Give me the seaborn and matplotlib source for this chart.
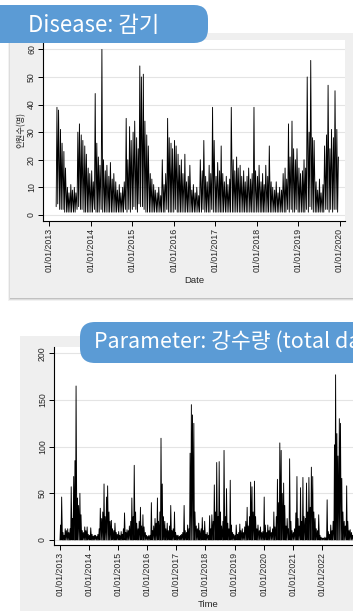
import numpy as np
import pandas as pd
import matplotlib
matplotlib.use("Agg")
import matplotlib.pyplot as plt
import matplotlib.dates as mdates
from matplotlib.patches import FancyBboxPatch, Rectangle
from matplotlib.transforms import IdentityTransform
import seaborn as sns

# --- data: daily series summarised per half-month (peak / trough) ---
# 감기 daily counts, Mar 2013 - Dec 2019
flu_hi_2013 = [39, 38, 31, 26, 23, 17, 10, 8, 11, 9, 10, 8, 30, 33, 29, 27, 25, 22, 17, 15]
flu_hi_2014 = [16, 12, 44, 26, 21, 18, 60, 20, 16, 18, 14, 19, 13, 15, 12, 9, 11, 8, 10, 12, 35, 20, 32, 27]
flu_hi_2015 = [30, 34, 28, 24, 54, 50, 51, 34, 29, 25, 15, 13, 11, 9, 8, 10, 7, 20, 11, 15, 35, 28, 26, 24]
flu_hi_2016 = [27, 25, 22, 18, 20, 15, 22, 12, 14, 18, 9, 11, 8, 10, 7, 20, 16, 27, 14, 12, 18, 15, 39, 27]
flu_hi_2017 = [14, 19, 16, 25, 15, 12, 14, 11, 13, 39, 20, 16, 21, 17, 18, 14, 16, 12, 14, 17, 13, 15, 39, 16]
flu_hi_2018 = [14, 18, 12, 15, 11, 18, 14, 25, 12, 10, 9, 12, 8, 10, 9, 15, 17, 13, 33, 21, 34, 24, 20, 24]
flu_hi_2019 = [17, 15, 16, 20, 17, 50, 30, 56, 28, 27, 12, 9, 13, 8, 11, 25, 29, 47, 24, 31, 28, 45, 31, 21]

flu_lo_2013 = [3, 4, 2, 2, 2, 1, 1, 1, 1, 1, 1, 1, 2, 3, 2, 2, 1, 1, 1, 1]
flu_lo_2014 = [1, 1, 2, 1, 1, 1, 2, 1, 1, 1, 1, 1, 1, 1, 1, 1, 1, 1, 1, 1, 2, 1, 2, 1]
flu_lo_2015 = [2, 3, 2, 1, 4, 3, 3, 2, 1, 1, 1, 1, 1, 1, 1, 1, 1, 1, 1, 1, 2, 1, 1, 1]
flu_lo_2016 = [1, 2, 1, 1, 1, 1, 1, 1, 1, 1, 1, 1, 1, 1, 1, 1, 1, 2, 1, 1, 1, 1, 2, 1]
flu_lo_2017 = [1, 1, 1, 1, 1, 1, 1, 1, 1, 1, 1, 1, 1, 1, 1, 1, 1, 1, 1, 1, 1, 1, 1, 1]
flu_lo_2018 = [1, 1, 1, 1, 1, 1, 1, 1, 1, 1, 1, 1, 1, 1, 1, 1, 1, 1, 2, 1, 2, 1, 1, 2]
flu_lo_2019 = [1, 1, 1, 1, 1, 2, 1, 3, 2, 1, 1, 1, 1, 1, 1, 1, 2, 2, 1, 2, 1, 2, 2, 1]

# 강수량 (total daily), half-month peaks, Jan 2013 - Mar 2023
rain_2013 = [16, 46, 8, 5, 12, 10, 12, 8, 12, 57, 23, 68, 85, 165, 45, 37, 50, 27, 10, 8, 14, 10, 14, 6]
rain_2014 = [5, 13, 6, 4, 5, 5, 4, 6, 12, 34, 23, 30, 60, 25, 46, 58, 30, 20, 21, 12, 10, 18, 8, 6]
rain_2015 = [9, 5, 9, 6, 12, 29, 8, 11, 10, 15, 20, 45, 25, 80, 30, 18, 12, 20, 35, 15, 27, 14, 8, 5]
rain_2016 = [4, 5, 5, 40, 10, 15, 23, 18, 45, 20, 30, 109, 60, 25, 20, 12, 18, 10, 15, 37, 10, 12, 30, 8]
rain_2017 = [5, 5, 4, 5, 6, 8, 37, 10, 8, 16, 12, 93, 145, 134, 125, 30, 15, 12, 18, 10, 12, 24, 10, 20]
rain_2018 = [6, 8, 5, 26, 12, 27, 20, 59, 30, 83, 25, 84, 30, 15, 20, 96, 25, 55, 18, 12, 64, 16, 8, 6]
rain_2019 = [5, 16, 6, 8, 17, 10, 12, 8, 14, 20, 35, 15, 25, 62, 57, 30, 63, 25, 12, 16, 10, 14, 8, 9]
rain_2020 = [46, 16, 8, 16, 10, 14, 8, 12, 30, 14, 25, 65, 40, 104, 96, 50, 61, 37, 15, 23, 12, 87, 20, 10]
rain_2021 = [8, 12, 29, 68, 23, 15, 56, 20, 67, 25, 23, 61, 30, 67, 35, 78, 68, 30, 23, 12, 10, 27, 5, 3]
rain_2022 = [2, 2, 3, 2, 43, 9, 6, 16, 10, 20, 102, 177, 114, 90, 130, 125, 66, 30, 20, 15, 58, 20, 10, 11]
rain_2023 = [8, 5, 10, 6, 12, 8]
dry_day = 0

flu_years = [2013, 2014, 2015, 2016, 2017, 2018, 2019, 2020]
rain_years = [2013, 2014, 2015, 2016, 2017, 2018, 2019, 2020, 2021, 2022]

# --- build long tables (trough at start of half-month, peak a week later) ---
flu_hi = flu_hi_2013 + flu_hi_2014 + flu_hi_2015 + flu_hi_2016 + flu_hi_2017 + flu_hi_2018 + flu_hi_2019
flu_lo = flu_lo_2013 + flu_lo_2014 + flu_lo_2015 + flu_lo_2016 + flu_lo_2017 + flu_lo_2018 + flu_lo_2019
starts = pd.date_range("2013-03-01", periods=len(flu_hi), freq="SMS")
flu = pd.DataFrame({"date": list(starts) + list(starts + pd.Timedelta(days=7)),
                    "value": flu_lo + flu_hi}).sort_values("date")

rain_hi = rain_2013 + rain_2014 + rain_2015 + rain_2016 + rain_2017 + rain_2018 + rain_2019 + rain_2020 + rain_2021 + rain_2022 + rain_2023
rstarts = pd.date_range("2013-01-01", periods=len(rain_hi), freq="SMS")
rain = pd.DataFrame({"date": list(rstarts) + list(rstarts + pd.Timedelta(days=7)),
                     "value": [dry_day] * len(rain_hi) + rain_hi}).sort_values("date")

# --- figure ---
sns.set_style("white")
plt.rcParams["font.family"] = ["Liberation Sans", "Noto Sans CJK KR", "DejaVu Sans"]

W, H = 353, 611
fig = plt.figure(figsize=(W / 100, H / 100), dpi=100, facecolor="white")
px = IdentityTransform()

def box(x0, y0, x1, y1, **kw):
    # image pixel box (top-left origin) -> display coords
    return Rectangle((x0, H - y1), x1 - x0, y1 - y0, transform=px, **kw)

panel = "#efefef"
# top panel with soft shadow
for i, a in enumerate([0.08, 0.14, 0.22]):
    fig.add_artist(box(10 - 2 + i, 33 + 2, 400, 301 - i, color="#606060", alpha=a, lw=0, zorder=-3))
fig.add_artist(box(10, 33, 400, 298, color=panel, lw=0, zorder=-2))
# bottom panel
fig.add_artist(box(20, 336, 400, 640, color=panel, lw=0, zorder=-2))

def style_axes(ax, xlabel, years):
    ax.set_facecolor("white")
    for s in ["top", "right"]:
        ax.spines[s].set_visible(False)
    for s in ["left", "bottom"]:
        ax.spines[s].set_color("black")
        ax.spines[s].set_linewidth(0.8)
    ax.yaxis.grid(True, color="#e4e4e4", lw=0.8)
    ax.xaxis.grid(False)
    ax.set_axisbelow(True)
    ax.set_xticks([pd.Timestamp(f"{y}-01-01") for y in years])
    ax.xaxis.set_major_formatter(mdates.DateFormatter("%m/%d/%Y"))
    ax.tick_params(axis="both", length=3.5, width=0.7, color="black", pad=1.5,
                   labelsize=6.3, left=True, bottom=True)
    ax.tick_params(axis="x", labelrotation=90)
    ax.tick_params(axis="y", labelrotation=90)
    for t in ax.get_yticklabels():
        t.set_va("center")
    ax.set_xlabel(xlabel, fontsize=6.8, labelpad=3)

# top chart: 감기
ax1 = fig.add_axes([43 / W, 1 - 221 / H, 302 / W, 181 / H])
sns.lineplot(data=flu, x="date", y="value", ax=ax1, color="black", linewidth=0.65, estimator=None)
ax1.set_xlim(pd.Timestamp("2012-11-05"), pd.Timestamp("2020-02-18"))
ax1.set_ylim(-2.2, 63.4)
ax1.set_yticks(range(0, 61, 10))
style_axes(ax1, "Date", flu_years)
ax1.set_ylabel("인원수(명)", fontsize=6, labelpad=1, family=["Noto Sans CJK KR"])

# bottom chart: 강수량
ax2 = fig.add_axes([54 / W, 1 - 545 / H, 309 / W, 198 / H])
sns.lineplot(data=rain, x="date", y="value", ax=ax2, color="black", linewidth=0.65, estimator=None)
ax2.set_xlim(pd.Timestamp("2012-10-18"), pd.Timestamp("2023-06-01"))
ax2.set_ylim(-5.4, 206.8)
ax2.set_yticks(range(0, 201, 50))
style_axes(ax2, "Time", rain_years)
ax2.set_ylabel("")

# blue header tags
blue = "#5b9bd5"
fig.add_artist(FancyBboxPatch((-40, H - 43), 248, 38, boxstyle="round,pad=0,rounding_size=14",
                              transform=px, color=blue, lw=0, zorder=5))
fig.text(28, H - 25, "Disease: 감기", transform=px, color="white", fontsize=16,
         va="center", ha="left", family=["Noto Sans CJK KR"], zorder=6)
fig.add_artist(FancyBboxPatch((80, H - 363), 340, 41, boxstyle="round,pad=0,rounding_size=15",
                              transform=px, color=blue, lw=0, zorder=5))
fig.text(94, H - 342, "Parameter: 강수량 (total daily)", transform=px, color="white", fontsize=15.5,
         va="center", ha="left", family=["Noto Sans CJK KR"], zorder=6)

fig.savefig("out.png", dpi=100, facecolor="white")
